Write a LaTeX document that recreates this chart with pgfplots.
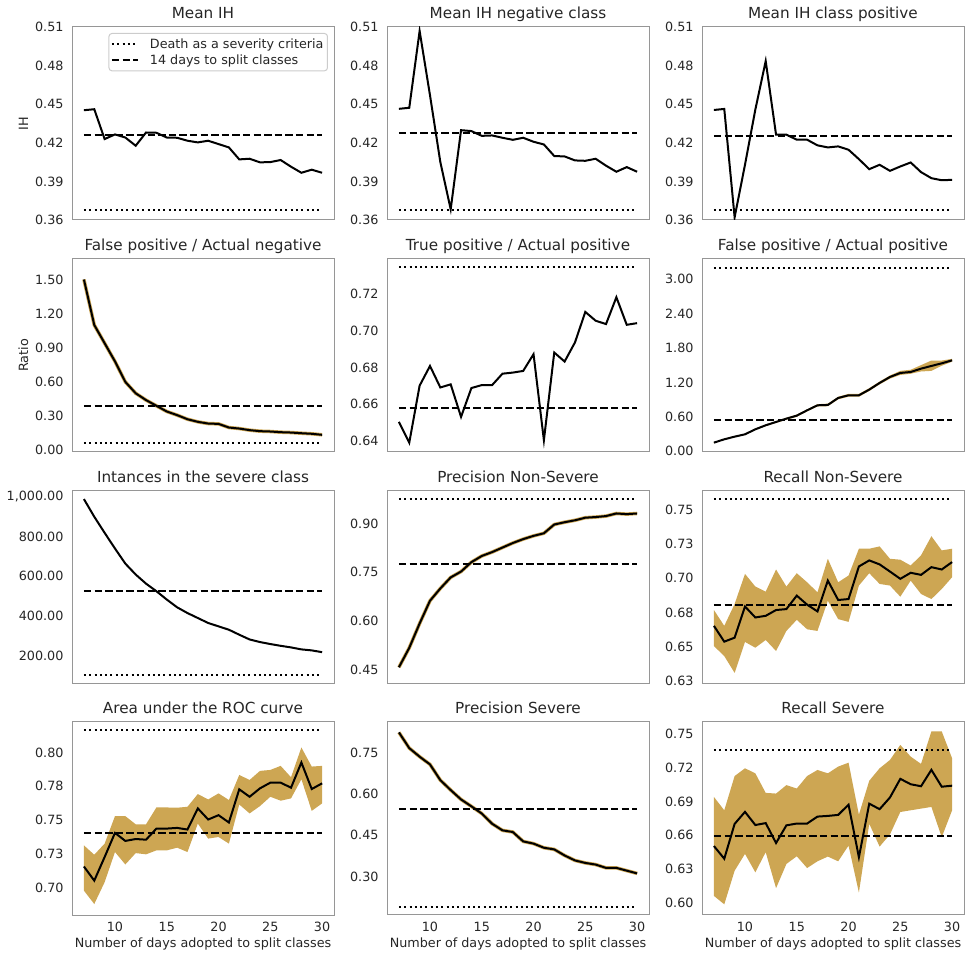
\documentclass[border=0pt]{standalone}
\usepackage{fontspec}
\setmainfont{DejaVu Sans}
\usepackage{pgfplots}
\pgfplotsset{compat=1.18}
\usepackage{pgfplotstable}
\definecolor{gold}{RGB}{205,166,83}
\definecolor{txt}{RGB}{38,38,38}
\definecolor{frame}{RGB}{150,150,150}
\definecolor{legframe}{RGB}{204,204,204}

\pgfplotstableread{
x y
7 0.4453
8 0.4461
9 0.4229
10 0.4265
11 0.4241
12 0.4177
13 0.4280
14 0.4278
15 0.4241
16 0.4239
17 0.4216
18 0.4203
19 0.4216
20 0.4190
21 0.4164
22 0.4071
23 0.4076
24 0.4048
25 0.4050
26 0.4066
27 0.4014
28 0.3967
29 0.3991
30 0.3967
}\tabMih
\pgfplotstableread{
x y
7 0.4464
8 0.4472
9 0.5069
10 0.457
11 0.405
12 0.3683
13 0.4298
14 0.4291
15 0.4254
16 0.4257
17 0.4239
18 0.4223
19 0.4239
20 0.4208
21 0.4187
22 0.4097
23 0.4094
24 0.4063
25 0.4060
26 0.4076
27 0.4022
28 0.3975
29 0.4011
30 0.3975
}\tabMihn
\pgfplotstableread{
x y
7 0.4455
8 0.4463
9 0.3621
10 0.4029
11 0.4458
12 0.4835
13 0.4263
14 0.4263
15 0.4224
16 0.4224
17 0.4180
18 0.4164
19 0.4172
20 0.4146
21 0.4073
22 0.3995
23 0.4029
24 0.3982
25 0.4016
26 0.4047
27 0.3972
28 0.3925
29 0.3909
30 0.3912
}\tabMihp
\pgfplotstableread{
x y
7 1.50
8 1.10
9 0.94
10 0.78
11 0.60
12 0.50
13 0.44
14 0.39
15 0.34
16 0.308
17 0.272
18 0.249
19 0.234
20 0.231
21 0.199
22 0.190
23 0.176
24 0.167
25 0.164
26 0.158
27 0.155
28 0.149
29 0.144
30 0.135
}\tabFpan
\pgfplotstableread{
x y
7 0.6504
8 0.6391
9 0.6701
10 0.6808
11 0.6691
12 0.6708
13 0.6531
14 0.6688
15 0.6704
16 0.6704
17 0.6766
18 0.6772
19 0.6781
20 0.6872
21 0.6404
22 0.6881
23 0.6832
24 0.6936
25 0.7102
26 0.7054
27 0.7036
28 0.7182
29 0.7032
30 0.7041
}\tabTpr
\pgfplotstableread{
x y
7 0.151
8 0.209
9 0.255
10 0.296
11 0.383
12 0.453
13 0.511
14 0.569
15 0.621
16 0.714
17 0.801
18 0.807
19 0.929
20 0.975
21 0.975
22 1.074
23 1.190
24 1.294
25 1.364
26 1.381
27 1.439
28 1.486
29 1.532
30 1.584
}\tabFpap
\pgfplotstableread{
x y
7 988
8 899
9 818
10 739
11 663
12 608
13 562
14 524
15 482
16 443
17 414
18 389
19 364
20 347
21 330
22 305
23 281
24 268
25 258
26 249
27 241
28 231
29 226
30 217
}\tabInst
\pgfplotstableread{
x y
7 0.457
8 0.517
9 0.592
10 0.662
11 0.700
12 0.734
13 0.752
14 0.781
15 0.800
16 0.812
17 0.826
18 0.840
19 0.852
20 0.862
21 0.870
22 0.897
23 0.904
24 0.910
25 0.918
26 0.920
27 0.923
28 0.931
29 0.929
30 0.931
}\tabPns
\pgfplotstableread{
x y
7 0.6653
8 0.6538
9 0.6567
10 0.6794
11 0.6714
12 0.6726
13 0.6768
14 0.6775
15 0.6873
16 0.6807
17 0.6758
18 0.6982
19 0.6841
20 0.6848
21 0.7085
22 0.7129
23 0.7100
24 0.7048
25 0.6995
26 0.7039
27 0.7024
28 0.7080
29 0.7063
30 0.7117
}\tabRns
\pgfplotstableread{
x y
7 0.7158
8 0.7054
9 0.7228
10 0.7406
11 0.7347
12 0.7361
13 0.7356
14 0.7438
15 0.7438
16 0.7443
17 0.7431
18 0.7587
19 0.7505
20 0.7537
21 0.7483
22 0.7728
23 0.7673
24 0.7735
25 0.7777
26 0.7777
27 0.7740
28 0.7926
29 0.7730
30 0.7772
}\tabAuc
\pgfplotstableread{
x y
7 0.823
8 0.766
9 0.735
10 0.707
11 0.650
12 0.614
13 0.580
14 0.555
15 0.529
16 0.492
17 0.468
18 0.462
19 0.428
20 0.420
21 0.405
22 0.399
23 0.377
24 0.359
25 0.350
26 0.344
27 0.332
28 0.332
29 0.322
30 0.312
}\tabPs

\pgfplotsset{
 panel/.style={
   scale only axis, width=262bp, height=193bp,
   xmin=5.85, xmax=31.15,
   axis line style={draw=frame, line width=1bp},
   major tick length=0pt, minor tick length=0pt,
   tick label style={font=\fontsize{12.8}{14}\selectfont, text=txt},
   /pgf/number format/assume math mode=true,
   yticklabel style={/pgf/number format/fixed, /pgf/number format/fixed zerofill, /pgf/number format/precision=2, /pgf/number format/1000 sep={,}, xshift=-5bp},
   xticklabel style={yshift=-4bp},
   scaled y ticks=false,
   every axis title shift=0pt,
   title style={font=\fontsize{15.3}{17}\selectfont, text=txt, anchor=base, yshift=8.5bp},
   label style={font=\fontsize{12.8}{14}\selectfont, text=txt},
 },
 toprows/.style={xticklabels={}},
 bottomrow/.style={xtick={10,15,20,25,30}, xlabel={Number of days adopted to split classes}, xlabel style={yshift=1bp}},
 mainline/.style={black, line width=2bp},
 dotline/.style={black, line width=2bp, dash pattern=on 2bp off 3.3bp},
 dashline/.style={black, line width=2bp, dash pattern=on 7.4bp off 3.2bp},
 thinband/.style={gold, line width=3.5bp},
 band/.style={fill=gold, draw=none},
}

\begin{document}
\begin{tikzpicture}
\useasboundingbox (0,0) rectangle (966bp,956bp);

% Row 1
\begin{axis}[panel, toprows, at={(72bp,929bp)}, anchor=north west, title={Mean IH}, ylabel={IH},
  ymin=0.36, ymax=0.51, ytick={0.36,0.39,0.42,0.45,0.48,0.51},
  legend style={at={(0.977,0.969)}, anchor=north east, draw=legframe, line width=1bp, rounded corners=3bp, font=\fontsize{12.8}{14}\selectfont, text=txt, inner xsep=2bp, inner ysep=3bp, row sep=1bp, column sep=9bp, cells={anchor=west}},
  legend image code/.code={\draw[#1] (0bp,0bp) -- (26bp,0bp);}]
\addplot[dotline] coordinates {(7,0.3678) (30,0.3678)};
\addplot[dashline] coordinates {(7,0.4260) (30,0.4260)};
\addplot[mainline] table[x=x,y=y] {\tabMih};
\legend{Death as a severity criteria, 14 days to split classes}
\end{axis}

\begin{axis}[panel, toprows, at={(387bp,929bp)}, anchor=north west, title={Mean IH negative class},
  ymin=0.36, ymax=0.51, ytick={0.36,0.39,0.42,0.45,0.48,0.51}]
\addplot[dotline] coordinates {(7,0.3678) (30,0.3678)};
\addplot[dashline] coordinates {(7,0.4273) (30,0.4273)};
\addplot[mainline] table[x=x,y=y] {\tabMihn};
\end{axis}

\begin{axis}[panel, toprows, at={(702bp,929bp)}, anchor=north west, title={Mean IH class positive},
  ymin=0.36, ymax=0.51, ytick={0.36,0.39,0.42,0.45,0.48,0.51}]
\addplot[dotline] coordinates {(7,0.3678) (30,0.3678)};
\addplot[dashline] coordinates {(7,0.4250) (30,0.4250)};
\addplot[mainline] table[x=x,y=y] {\tabMihp};
\end{axis}

% Row 2
\begin{axis}[panel, toprows, at={(72bp,697bp)}, anchor=north west, title={False positive / Actual negative}, ylabel={Ratio},
  ymin=-0.016, ymax=1.68, ytick={0,0.3,0.6,0.9,1.2,1.5}]
\addplot[thinband] table[x=x,y=y] {\tabFpan};
\addplot[dotline] coordinates {(7,0.059) (30,0.059)};
\addplot[dashline] coordinates {(7,0.39) (30,0.39)};
\addplot[mainline] table[x=x,y=y] {\tabFpan};
\end{axis}

\begin{axis}[panel, toprows, at={(387bp,697bp)}, anchor=north west, title={True positive / Actual positive},
  ymin=0.634, ymax=0.739, ytick={0.64,0.66,0.68,0.70,0.72}]
\addplot[dotline] coordinates {(7,0.7346) (30,0.7346)};
\addplot[dashline] coordinates {(7,0.6577) (30,0.6577)};
\addplot[mainline] table[x=x,y=y] {\tabTpr};
\end{axis}

\begin{axis}[panel, toprows, at={(702bp,697bp)}, anchor=north west, title={False positive / Actual positive},
  ymin=-0.012, ymax=3.348, ytick={0,0.6,1.2,1.8,2.4,3.0}]
\addplot[band] coordinates {(7,0.16)(8,0.22)(9,0.265)(10,0.305)(11,0.395)(12,0.465)(13,0.525)(14,0.585)(15,0.64)(16,0.73)(17,0.82)(18,0.83)(19,0.95)(20,1.00)(21,1.00)(22,1.10)(23,1.215)(24,1.32)(25,1.40)(26,1.42)(27,1.50)(28,1.58)(29,1.58)(30,1.61)
 (30,1.56)(29,1.49)(28,1.40)(27,1.39)(26,1.35)(25,1.33)(24,1.265)(23,1.165)(22,1.05)(21,0.95)(20,0.95)(19,0.905)(18,0.785)(17,0.78)(16,0.695)(15,0.60)(14,0.55)(13,0.495)(12,0.44)(11,0.37)(10,0.285)(9,0.245)(8,0.20)(7,0.14)};
\addplot[dotline] coordinates {(7,3.19) (30,3.19)};
\addplot[dashline] coordinates {(7,0.551) (30,0.551)};
\addplot[mainline] table[x=x,y=y] {\tabFpap};
\end{axis}

% Row 3
\begin{axis}[panel, toprows, at={(72bp,465bp)}, anchor=north west, title={Intances in the severe class},
  ymin=56.8, ymax=1028.6, ytick={200,400,600,800,1000}]
\addplot[dotline] coordinates {(7,102) (30,102)};
\addplot[dashline] coordinates {(7,523) (30,523)};
\addplot[mainline] table[x=x,y=y] {\tabInst};
\end{axis}

\begin{axis}[panel, toprows, at={(387bp,465bp)}, anchor=north west, title={Precision Non-Severe},
  ymin=0.4055, ymax=1.0003, ytick={0.45,0.6,0.75,0.9}]
\addplot[thinband] table[x=x,y=y] {\tabPns};
\addplot[dotline] coordinates {(7,0.9745) (30,0.9745)};
\addplot[dashline] coordinates {(7,0.776) (30,0.776)};
\addplot[mainline] table[x=x,y=y] {\tabPns};
\end{axis}

\begin{axis}[panel, toprows, at={(702bp,465bp)}, anchor=north west, title={Recall Non-Severe},
  ymin=0.623, ymax=0.7634, ytick={0.625,0.65,0.675,0.7,0.725,0.75},
  yticklabels={0.63,0.65,0.68,0.70,0.73,0.75}]
\addplot[band] coordinates {(7,0.6768)(8,0.6653)(9,0.6812)(10,0.7031)(11,0.6939)(12,0.6902)(13,0.7063)(14,0.6939)(15,0.7036)(16,0.6970)(17,0.6897)(18,0.7141)(19,0.6970)(20,0.7019)(21,0.7214)(22,0.7214)(23,0.7231)(24,0.7141)(25,0.7134)(26,0.7092)(27,0.7166)(28,0.7305)(29,0.7202)(30,0.7214)
 (30,0.7007)(29,0.6921)(28,0.6848)(27,0.6885)(26,0.6982)(25,0.6865)(24,0.6946)(23,0.6958)(22,0.7036)(21,0.6946)(20,0.6682)(19,0.6702)(18,0.6836)(17,0.6616)(16,0.6628)(15,0.6697)(14,0.6616)(13,0.6470)(12,0.6550)(11,0.6494)(10,0.6536)(9,0.6311)(8,0.6433)(7,0.6506)};
\addplot[dotline] coordinates {(7,0.7573) (30,0.7573)};
\addplot[dashline] coordinates {(7,0.6804) (30,0.6804)};
\addplot[mainline] table[x=x,y=y] {\tabRns};
\end{axis}

% Row 4
\begin{axis}[panel, bottomrow, at={(72bp,234bp)}, anchor=north west, title={Area under the ROC curve},
  ymin=0.680, ymax=0.8225, ytick={0.7,0.725,0.75,0.775,0.8},
  yticklabels={0.70,0.73,0.75,0.78,0.80}]
\addplot[band] coordinates {(7,0.7314)(8,0.7245)(9,0.7327)(10,0.7530)(11,0.7530)(12,0.7470)(13,0.7470)(14,0.7594)(15,0.7594)(16,0.7592)(17,0.7599)(18,0.7693)(19,0.7653)(20,0.7698)(21,0.7649)(22,0.7834)(23,0.7797)(24,0.7864)(25,0.7871)(26,0.7901)(27,0.7817)(28,0.8037)(29,0.7896)(30,0.7901)
 (30,0.7624)(29,0.7569)(28,0.7802)(27,0.7661)(26,0.7644)(25,0.7673)(24,0.7604)(23,0.7550)(22,0.7616)(21,0.7327)(20,0.7376)(19,0.7364)(18,0.7475)(17,0.7265)(16,0.7297)(15,0.7277)(14,0.7277)(13,0.7248)(12,0.7257)(11,0.7173)(10,0.7265)(9,0.7042)(8,0.6881)(7,0.6980)};
\addplot[dotline] coordinates {(7,0.8163) (30,0.8163)};
\addplot[dashline] coordinates {(7,0.7406) (30,0.7406)};
\addplot[mainline] table[x=x,y=y] {\tabAuc};
\end{axis}

\begin{axis}[panel, bottomrow, at={(387bp,234bp)}, anchor=north west, title={Precision Severe},
  ymin=0.1613, ymax=0.8607, ytick={0.3,0.45,0.6,0.75}]
\addplot[thinband] table[x=x,y=y] {\tabPs};
\addplot[dotline] coordinates {(7,0.1905) (30,0.1905)};
\addplot[dashline] coordinates {(7,0.5468) (30,0.5468)};
\addplot[mainline] table[x=x,y=y] {\tabPs};
\end{axis}

\begin{axis}[panel, bottomrow, at={(702bp,234bp)}, anchor=north west, title={Recall Severe},
  ymin=0.589, ymax=0.7608, ytick={0.6,0.63,0.66,0.69,0.72,0.75}]
\addplot[band] coordinates {(7,0.6941)(8,0.6822)(9,0.7127)(10,0.7196)(11,0.7151)(12,0.6977)(13,0.6971)(14,0.7046)(15,0.7016)(16,0.7127)(17,0.7181)(18,0.7151)(19,0.7211)(20,0.7246)(21,0.6783)(22,0.7085)(23,0.7196)(24,0.7270)(25,0.7404)(26,0.7300)(27,0.7235)(28,0.7524)(29,0.7524)(30,0.7285)
 (30,0.6822)(29,0.6583)(28,0.6852)(27,0.6837)(26,0.6822)(25,0.6807)(24,0.6607)(23,0.6499)(22,0.6702)(21,0.6090)(20,0.6508)(19,0.6368)(18,0.6410)(17,0.6368)(16,0.6308)(15,0.6413)(14,0.6344)(13,0.6129)(12,0.6449)(11,0.6270)(10,0.6434)(9,0.6284)(8,0.5985)(7,0.6060)};
\addplot[dotline] coordinates {(7,0.7357) (30,0.7357)};
\addplot[dashline] coordinates {(7,0.6589) (30,0.6589)};
\addplot[mainline] table[x=x,y=y] {\tabTpr};
\end{axis}
\end{tikzpicture}
\end{document}
